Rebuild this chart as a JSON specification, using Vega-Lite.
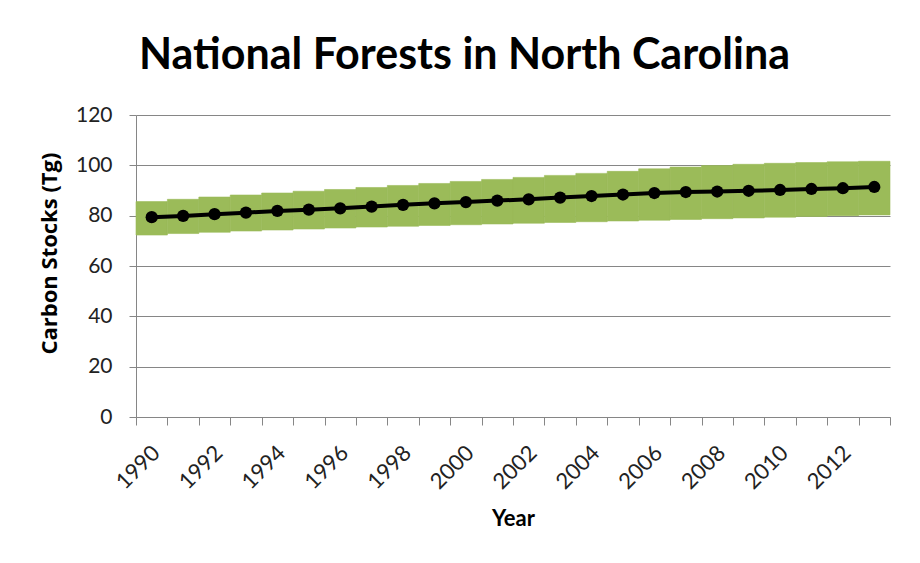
{
  "$schema": "https://vega.github.io/schema/vega-lite/v6.json",
  "width": 754,
  "height": 302,
  "autosize": {"type": "none"},
  "padding": {"left": 136, "top": 115, "right": 30, "bottom": 146},
  "background": "white",
  "title": {
    "text": "National Forests in North Carolina",
    "font": "Lato",
    "fontSize": 43,
    "fontWeight": "bold",
    "color": "#000000",
    "anchor": "middle",
    "frame": "bounds",
    "offset": 26
  },
  "data": {
    "values": [
      {"year": 1990, "low": 72.3, "high": 85.6, "stock": 79.4},
      {"year": 1991, "low": 72.9, "high": 86.5, "stock": 79.9},
      {"year": 1992, "low": 73.4, "high": 87.4, "stock": 80.6},
      {"year": 1993, "low": 73.9, "high": 88.2, "stock": 81.2},
      {"year": 1994, "low": 74.3, "high": 89.0, "stock": 81.9},
      {"year": 1995, "low": 74.7, "high": 89.7, "stock": 82.4},
      {"year": 1996, "low": 75.1, "high": 90.4, "stock": 82.9},
      {"year": 1997, "low": 75.5, "high": 91.2, "stock": 83.6},
      {"year": 1998, "low": 75.8, "high": 92.0, "stock": 84.3},
      {"year": 1999, "low": 76.1, "high": 92.8, "stock": 84.9},
      {"year": 2000, "low": 76.4, "high": 93.6, "stock": 85.4},
      {"year": 2001, "low": 76.7, "high": 94.4, "stock": 86.0},
      {"year": 2002, "low": 77.0, "high": 95.2, "stock": 86.5},
      {"year": 2003, "low": 77.3, "high": 96.0, "stock": 87.2},
      {"year": 2004, "low": 77.6, "high": 96.8, "stock": 87.8},
      {"year": 2005, "low": 77.9, "high": 97.6, "stock": 88.4},
      {"year": 2006, "low": 78.2, "high": 98.6, "stock": 89.0},
      {"year": 2007, "low": 78.5, "high": 99.3, "stock": 89.4},
      {"year": 2008, "low": 78.8, "high": 99.9, "stock": 89.6},
      {"year": 2009, "low": 79.1, "high": 100.4, "stock": 89.9},
      {"year": 2010, "low": 79.4, "high": 100.8, "stock": 90.2},
      {"year": 2011, "low": 79.7, "high": 101.1, "stock": 90.6},
      {"year": 2012, "low": 80.0, "high": 101.4, "stock": 90.9},
      {"year": 2013, "low": 80.3, "high": 101.6, "stock": 91.4}
    ]
  },
  "encoding": {
    "x": {
      "field": "year",
      "type": "ordinal",
      "scale": {"type": "band", "paddingInner": 0, "paddingOuter": 0},
      "axis": {
        "title": "Year",
        "titleFont": "Lato",
        "titleFontSize": 22,
        "titleFontWeight": "bold",
        "titleColor": "#000000",
        "titlePadding": 16,
        "labelFont": "Lato",
        "labelFontSize": 22,
        "labelColor": "#222222",
        "labelAngle": -45,
        "labelAlign": "right",
        "labelBaseline": "middle",
        "labelPadding": 24,
        "labelOffset": 4,
        "labelExpr": "datum.value % 2 == 0 ? datum.label : ''",
        "tickBand": "extent",
        "tickSize": 8,
        "tickColor": "#868686",
        "domainColor": "#868686",
        "grid": false
      }
    }
  },
  "layer": [
    {
      "mark": {"type": "bar", "color": "#9BBB59", "stroke": "#9BBB59", "strokeWidth": 0.6},
      "encoding": {
        "y": {
          "field": "low",
          "type": "quantitative",
          "scale": {"domain": [0, 120]},
          "axis": {
            "title": "Carbon Stocks (Tg)",
            "titleFont": "Open Sans",
            "titleFontSize": 22,
            "titleFontWeight": "bold",
            "titleColor": "#000000",
            "titleY": 138,
            "titlePadding": 14,
            "values": [0, 20, 40, 60, 80, 100, 120],
            "labelFont": "Lato",
            "labelFontSize": 21,
            "labelColor": "#222222",
            "labelPadding": 17,
            "tickSize": 7,
            "tickColor": "#868686",
            "domainColor": "#868686",
            "gridColor": "#868686",
            "gridWidth": 1
          }
        },
        "y2": {"field": "high"}
      }
    },
    {
      "mark": {"type": "line", "color": "#000000", "strokeWidth": 4},
      "encoding": {"y": {"field": "stock", "type": "quantitative"}}
    },
    {
      "mark": {"type": "point", "filled": true, "color": "#000000", "opacity": 1, "size": 150},
      "encoding": {"y": {"field": "stock", "type": "quantitative"}}
    }
  ],
  "config": {
    "view": {"stroke": null}
  }
}
